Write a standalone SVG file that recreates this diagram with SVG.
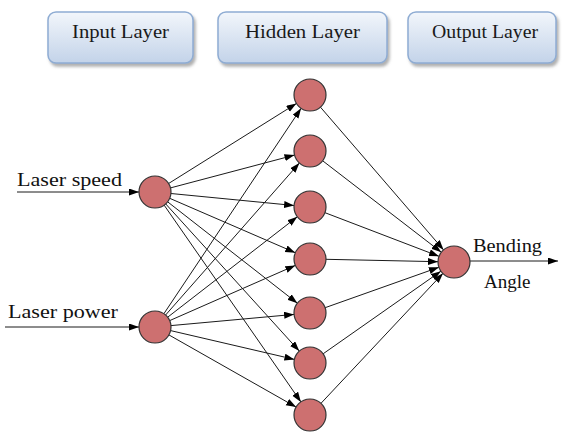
<svg xmlns="http://www.w3.org/2000/svg" width="563" height="432" viewBox="0 0 563 432">
<defs>
<linearGradient id="hdr" x1="0" y1="0" x2="0" y2="1">
<stop offset="0" stop-color="#f2f6fb"/>
<stop offset="1" stop-color="#c3d3e9"/>
</linearGradient>
<filter id="sh" x="-10%" y="-10%" width="130%" height="140%">
<feDropShadow dx="2" dy="3" stdDeviation="1.5" flood-color="#7a7a7a" flood-opacity="0.6"/>
</filter>
<marker id="ah" markerUnits="userSpaceOnUse" markerWidth="11" markerHeight="8" refX="10" refY="3.5" orient="auto">
<path d="M0,0 L10,3.5 L0,7 z" fill="#000"/>
</marker>
</defs>
<style>
.hb{fill:url(#hdr);stroke:#8eacd3;stroke-width:1.5;filter:url(#sh)}
.ht{font-family:"Liberation Serif","DejaVu Serif",serif;font-size:19px;fill:#1a1a1a}
.lb{font-family:"Liberation Serif","DejaVu Serif",serif;font-size:19px;fill:#111}
.nd{fill:#cd7070;stroke:#333;stroke-width:1.2}
.cn line{stroke:#1a1a1a;stroke-width:1;marker-end:url(#ah)}
</style>
<rect width="563" height="432" fill="#fff"/>
<g id="hdr-input"><rect class="hb" x="48" y="12" width="145" height="51" rx="8"/><text class="ht" x="72" y="38" textLength="97" lengthAdjust="spacingAndGlyphs">Input Layer</text></g>
<g id="hdr-hidden"><rect class="hb" x="218" y="12" width="169" height="51" rx="8"/><text class="ht" x="245" y="38" textLength="115" lengthAdjust="spacingAndGlyphs">Hidden Layer</text></g>
<g id="hdr-output"><rect class="hb" x="408" y="12" width="148" height="51" rx="8"/><text class="ht" x="432" y="38" textLength="106" lengthAdjust="spacingAndGlyphs">Output Layer</text></g>
<g id="connectors" class="cn">
<line x1="17" y1="192" x2="139" y2="192"/>
<line x1="5" y1="327" x2="139" y2="327"/>
<line x1="470" y1="261" x2="558" y2="261"/>
<line x1="168.6" y1="183.5" x2="296.4" y2="103.5"/>
<line x1="170.5" y1="187.9" x2="294.5" y2="155.1"/>
<line x1="170.9" y1="193.5" x2="294.1" y2="205.5"/>
<line x1="169.7" y1="198.3" x2="295.3" y2="252.7"/>
<line x1="167.6" y1="201.8" x2="297.4" y2="303.2"/>
<line x1="165.7" y1="203.9" x2="299.3" y2="351.1"/>
<line x1="164.1" y1="205.1" x2="300.9" y2="401.9"/>
<line x1="163.9" y1="313.7" x2="301.1" y2="108.3"/>
<line x1="165.6" y1="315.0" x2="299.4" y2="163.0"/>
<line x1="167.7" y1="317.2" x2="297.3" y2="216.8"/>
<line x1="169.7" y1="320.6" x2="295.3" y2="265.4"/>
<line x1="170.9" y1="325.6" x2="294.1" y2="314.4"/>
<line x1="170.6" y1="330.6" x2="294.4" y2="359.4"/>
<line x1="168.9" y1="334.9" x2="296.1" y2="407.1"/>
<line x1="320.4" y1="107.1" x2="443.6" y2="249.9"/>
<line x1="322.7" y1="160.8" x2="441.3" y2="252.2"/>
<line x1="325.0" y1="212.7" x2="439.0" y2="256.3"/>
<line x1="326.0" y1="259.3" x2="438.0" y2="261.7"/>
<line x1="325.1" y1="307.7" x2="438.9" y2="267.3"/>
<line x1="323.1" y1="353.8" x2="440.9" y2="271.2"/>
<line x1="321.0" y1="403.3" x2="443.0" y2="273.3"/>
</g>
<g id="in-speed"><circle class="nd" cx="155" cy="192" r="16"/><text class="lb" x="17" y="186" textLength="105" lengthAdjust="spacingAndGlyphs">Laser speed</text></g>
<g id="in-power"><circle class="nd" cx="155" cy="327" r="16"/><text class="lb" x="8" y="318" textLength="110" lengthAdjust="spacingAndGlyphs">Laser power</text></g>
<g id="h1"><circle class="nd" cx="310" cy="95" r="16"/></g>
<g id="h2"><circle class="nd" cx="310" cy="151" r="16"/></g>
<g id="h3"><circle class="nd" cx="310" cy="207" r="16"/></g>
<g id="h4"><circle class="nd" cx="310" cy="259" r="16"/></g>
<g id="h5"><circle class="nd" cx="310" cy="313" r="16"/></g>
<g id="h6"><circle class="nd" cx="310" cy="363" r="16"/></g>
<g id="h7"><circle class="nd" cx="310" cy="415" r="16"/></g>
<g id="out"><circle class="nd" cx="454" cy="262" r="16"/><text class="lb" x="473" y="252" textLength="69" lengthAdjust="spacingAndGlyphs">Bending</text><text class="lb" x="484" y="288">Angle</text></g>
</svg>
